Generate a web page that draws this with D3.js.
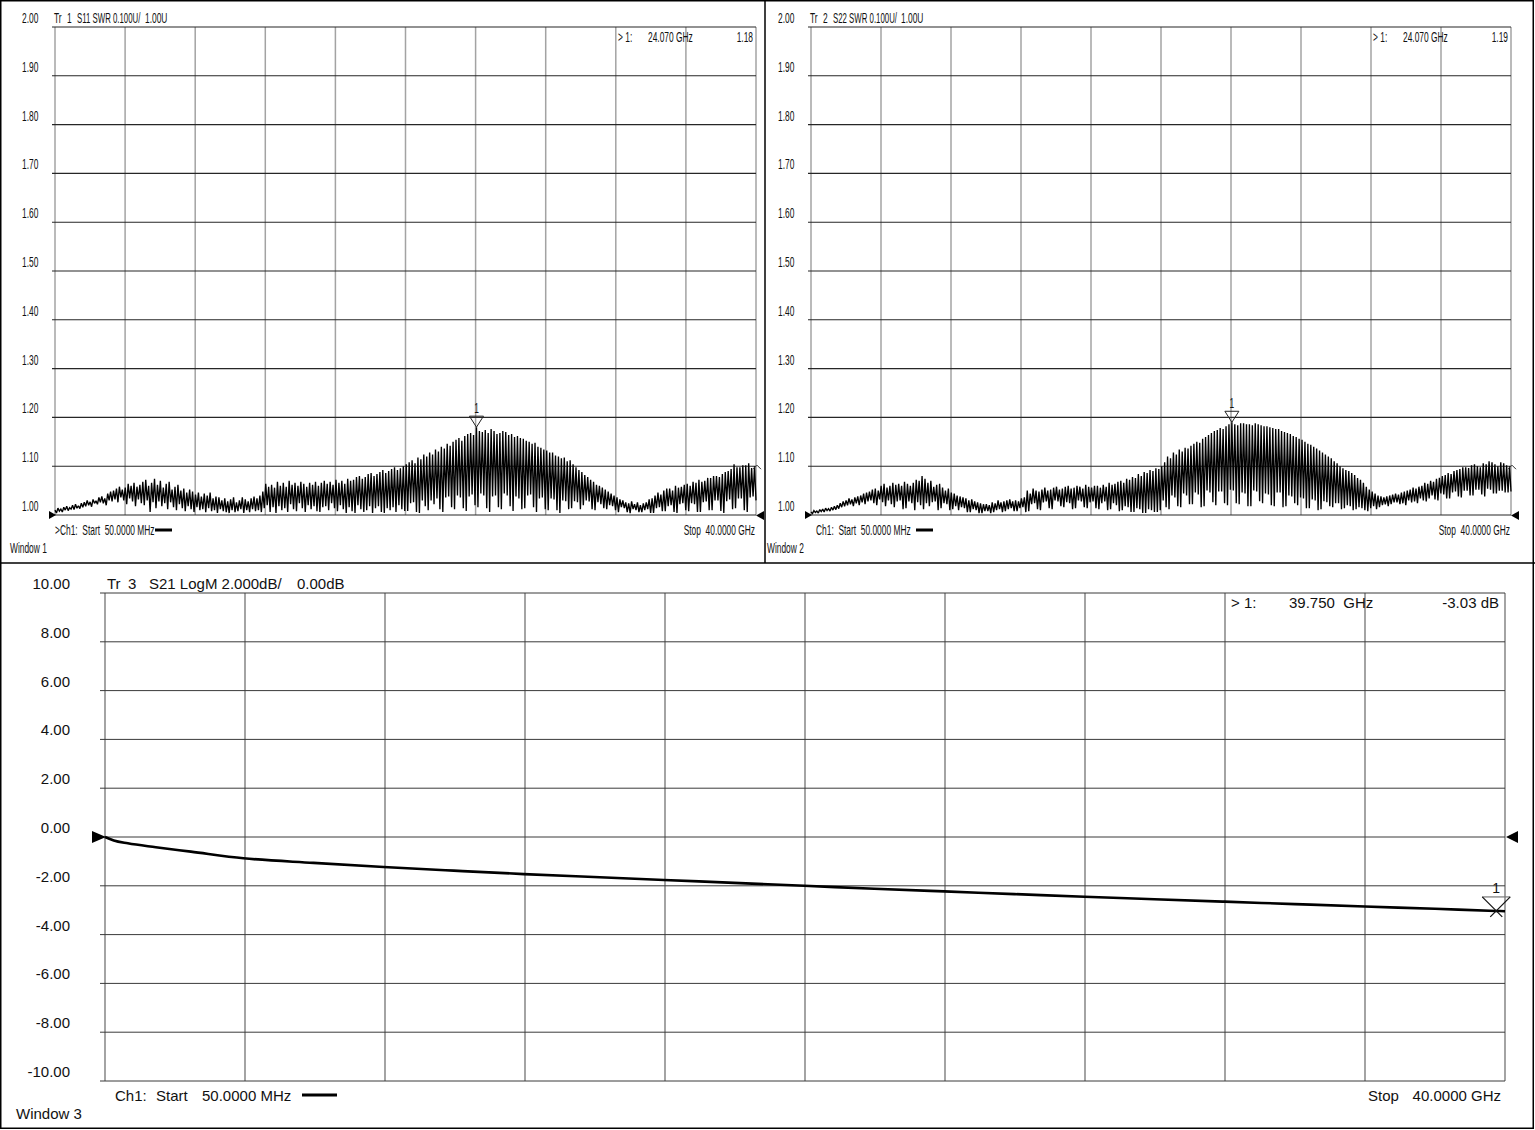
<!DOCTYPE html>
<html><head><meta charset="utf-8">
<script src="https://cdnjs.cloudflare.com/ajax/libs/d3/7.8.5/d3.min.js"></script>
<style>body{margin:0;background:#fff}svg{display:block}</style>
</head><body>
<script>
// ---------- DATA ----------
const sweepStartGHz = 0.05, sweepStopGHz = 40.0;
const swrTicks = [2.0,1.9,1.8,1.7,1.6,1.5,1.4,1.3,1.2,1.1,1.0];
const swrTickLabels = ["2.00","1.90","1.80","1.70","1.60","1.50","1.40","1.30","1.20","1.10","1.00"];
const dbTicks = [10,8,6,4,2,0,-2,-4,-6,-8,-10];
const dbTickLabels = ["10.00","8.00","6.00","4.00","2.00","0.00","-2.00","-4.00","-6.00","-8.00","-10.00"];
const freqGrid = [0.05,4.045,8.04,12.035,16.03,20.025,24.02,28.015,32.01,36.005,40.0];

// S11 SWR sweep: alternating local maxima / minima (evenly spaced sweep points)
const s11Peaks = [
 1.010,1.014,1.012,1.016,1.018,1.015,1.020,1.022,1.019,1.024,
 1.026,1.030,1.027,1.032,1.029,1.036,1.038,1.034,1.044,1.048,
 1.050,1.054,1.058,1.052,1.056,1.064,1.060,1.066,1.058,1.062,
 1.068,1.072,1.060,1.066,1.074,1.062,1.070,1.056,1.064,1.068,
 1.052,1.058,1.062,1.050,1.054,1.046,1.052,1.048,1.042,1.046,
 1.038,1.044,1.040,1.046,1.034,1.038,1.036,1.030,1.034,1.028,
 1.032,1.036,1.026,1.030,1.036,1.032,1.028,1.034,1.038,1.034,
 1.040,1.048,1.064,1.058,1.062,1.056,1.068,1.060,1.066,1.058,
 1.070,1.062,1.066,1.060,1.068,1.064,1.058,1.066,1.062,1.068,
 1.060,1.066,1.070,1.064,1.068,1.062,1.072,1.066,1.070,1.064,
 1.074,1.070,1.072,1.078,1.080,1.074,1.078,1.084,1.086,1.080,
 1.084,1.088,1.092,1.086,1.090,1.094,1.098,1.092,1.096,1.100,
 1.104,1.108,1.112,1.106,1.118,1.114,1.124,1.120,1.128,1.124,
 1.134,1.130,1.140,1.136,1.146,1.142,1.150,1.154,1.158,1.152,
 1.162,1.166,1.168,1.164,1.180,1.172,1.170,1.174,1.168,1.176,
 1.172,1.166,1.168,1.172,1.170,1.164,1.166,1.160,1.162,1.158,
 1.156,1.152,1.150,1.146,1.148,1.140,1.138,1.134,1.132,1.128,
 1.128,1.122,1.120,1.116,1.118,1.110,1.112,1.104,1.098,1.092,
 1.088,1.082,1.078,1.072,1.068,1.062,1.060,1.056,1.052,1.048,
 1.044,1.040,1.036,1.032,1.030,1.026,1.024,1.028,1.022,1.026,
 1.020,1.024,1.026,1.032,1.034,1.040,1.046,1.042,1.050,1.054,
 1.054,1.050,1.060,1.056,1.058,1.062,1.064,1.060,1.068,1.066,
 1.072,1.068,1.070,1.076,1.076,1.080,1.080,1.078,1.084,1.088,
 1.090,1.094,1.104,1.098,1.098,1.102,1.102,1.106,1.096,1.100];
const s11Troughs = [
 1.004,1.008,1.006,1.010,1.009,1.012,1.011,1.014,1.013,1.016,
 1.018,1.020,1.017,1.024,1.022,1.026,1.024,1.020,1.030,1.028,
 1.032,1.026,1.036,1.030,1.022,1.034,1.028,1.018,1.032,1.024,
 1.020,1.030,1.006,1.026,1.014,1.028,1.018,1.024,1.012,1.026,
 1.016,1.010,1.022,1.014,1.008,1.018,1.012,1.006,1.016,1.010,
 1.012,1.006,1.014,1.008,1.010,1.004,1.012,1.008,1.006,1.004,
 1.010,1.006,1.008,1.012,1.004,1.010,1.006,1.012,1.008,1.010,
 1.006,1.014,1.020,1.006,1.016,1.004,1.018,1.010,1.014,1.006,
 1.022,1.012,1.008,1.024,1.014,1.006,1.020,1.012,1.018,1.008,
 1.006,1.016,1.018,1.010,1.024,1.014,1.008,1.020,1.012,1.004,
 1.016,1.008,1.004,1.020,1.012,1.006,1.010,1.018,1.004,1.014,
 1.018,1.006,1.004,1.014,1.010,1.016,1.006,1.020,1.012,1.008,
 1.008,1.024,1.026,1.006,1.004,1.030,1.018,1.010,1.030,1.022,
 1.034,1.012,1.006,1.036,1.038,1.016,1.012,1.040,1.036,1.014,
 1.008,1.038,1.042,1.020,1.016,1.044,1.040,1.014,1.006,1.038,
 1.040,1.016,1.012,1.044,1.040,1.018,1.008,1.038,1.034,1.012,
 1.014,1.040,1.042,1.016,1.006,1.034,1.036,1.012,1.010,1.034,
 1.032,1.010,1.004,1.030,1.028,1.012,1.014,1.028,1.026,1.012,
 1.020,1.030,1.028,1.012,1.010,1.026,1.022,1.014,1.012,1.020,
 1.018,1.010,1.006,1.016,1.014,1.006,1.004,1.012,1.010,1.006,
 1.006,1.010,1.012,1.004,1.004,1.014,1.016,1.008,1.008,1.018,
 1.020,1.006,1.004,1.022,1.024,1.010,1.008,1.024,1.022,1.006,
 1.006,1.026,1.028,1.010,1.010,1.030,1.030,1.008,1.004,1.028,
 1.032,1.012,1.014,1.034,1.034,1.010,1.006,1.036,1.038,1.030];

// S22 SWR sweep
const s22Peaks = [
 1.006,1.009,1.008,1.011,1.012,1.014,1.013,1.016,1.018,1.020,
 1.024,1.028,1.030,1.034,1.032,1.036,1.038,1.040,1.044,1.046,
 1.048,1.052,1.054,1.050,1.060,1.064,1.056,1.060,1.066,1.062,
 1.064,1.060,1.068,1.064,1.060,1.066,1.072,1.070,1.080,1.074,
 1.066,1.070,1.058,1.062,1.064,1.056,1.050,1.054,1.046,1.044,
 1.040,1.038,1.036,1.034,1.030,1.032,1.028,1.026,1.024,1.022,
 1.022,1.020,1.026,1.024,1.030,1.026,1.028,1.030,1.032,1.028,
 1.030,1.028,1.034,1.036,1.050,1.044,1.054,1.050,1.048,1.052,
 1.056,1.050,1.052,1.056,1.058,1.052,1.054,1.058,1.060,1.054,
 1.056,1.060,1.058,1.054,1.062,1.058,1.056,1.060,1.060,1.056,
 1.062,1.058,1.066,1.062,1.064,1.068,1.070,1.066,1.074,1.072,
 1.078,1.076,1.084,1.080,1.088,1.086,1.092,1.090,1.096,1.094,
 1.100,1.108,1.120,1.116,1.128,1.124,1.134,1.130,1.138,1.136,
 1.142,1.146,1.150,1.148,1.156,1.160,1.164,1.168,1.172,1.174,
 1.178,1.176,1.182,1.186,1.190,1.186,1.184,1.188,1.188,1.186,
 1.186,1.184,1.188,1.186,1.184,1.182,1.182,1.180,1.178,1.176,
 1.176,1.172,1.170,1.168,1.166,1.162,1.160,1.156,1.154,1.150,
 1.146,1.144,1.140,1.136,1.132,1.128,1.124,1.120,1.116,1.110,
 1.106,1.100,1.096,1.092,1.090,1.086,1.082,1.076,1.072,1.066,
 1.058,1.052,1.048,1.044,1.040,1.038,1.036,1.038,1.040,1.042,
 1.044,1.042,1.046,1.048,1.050,1.052,1.056,1.054,1.058,1.060,
 1.066,1.064,1.070,1.068,1.074,1.076,1.080,1.082,1.086,1.084,
 1.090,1.092,1.094,1.098,1.098,1.096,1.102,1.104,1.100,1.098,
 1.106,1.104,1.110,1.108,1.104,1.100,1.108,1.106,1.102,1.100];
const s22Troughs = [
 1.003,1.005,1.004,1.007,1.006,1.009,1.008,1.010,1.011,1.013,
 1.016,1.018,1.020,1.022,1.018,1.024,1.020,1.026,1.022,1.028,
 1.030,1.024,1.020,1.032,1.026,1.018,1.030,1.022,1.016,1.028,
 1.030,1.012,1.014,1.028,1.024,1.010,1.026,1.020,1.012,1.024,
 1.018,1.026,1.028,1.010,1.014,1.024,1.022,1.010,1.012,1.018,
 1.010,1.016,1.014,1.006,1.006,1.012,1.010,1.004,1.004,1.008,
 1.008,1.004,1.006,1.010,1.012,1.006,1.008,1.012,1.014,1.008,
 1.008,1.014,1.016,1.006,1.008,1.022,1.024,1.012,1.010,1.026,
 1.028,1.014,1.012,1.030,1.028,1.018,1.016,1.026,1.024,1.012,
 1.014,1.030,1.028,1.016,1.014,1.026,1.028,1.014,1.012,1.024,
 1.028,1.010,1.012,1.024,1.020,1.008,1.010,1.018,1.016,1.006,
 1.006,1.014,1.012,1.004,1.004,1.012,1.010,1.006,1.006,1.010,
 1.030,1.016,1.012,1.040,1.036,1.018,1.016,1.044,1.040,1.022,
 1.022,1.046,1.042,1.016,1.018,1.050,1.046,1.026,1.020,1.048,
 1.048,1.024,1.020,1.052,1.050,1.024,1.022,1.046,1.044,1.018,
 1.018,1.050,1.048,1.028,1.024,1.044,1.042,1.020,1.018,1.046,
 1.046,1.016,1.018,1.040,1.038,1.024,1.020,1.036,1.034,1.014,
 1.014,1.032,1.030,1.010,1.012,1.028,1.026,1.018,1.016,1.024,
 1.024,1.012,1.014,1.020,1.018,1.010,1.012,1.016,1.014,1.010,
 1.008,1.014,1.018,1.012,1.016,1.020,1.022,1.018,1.022,1.026,
 1.026,1.022,1.024,1.020,1.030,1.026,1.028,1.024,1.034,1.030,
 1.028,1.034,1.040,1.032,1.030,1.044,1.042,1.034,1.034,1.046,
 1.048,1.038,1.036,1.050,1.050,1.040,1.040,1.052,1.052,1.042,
 1.038,1.054,1.052,1.044,1.044,1.050,1.050,1.046,1.046,1.048];

// S21 insertion loss
const s21Freq = [0.05,0.3,0.7,1.5,2.5,4,6,8,10,12,14,16,18,20,22,24,26,28,30,32,34,36,38,39.75,40];
const s21Val  = [0.00,-0.14,-0.26,-0.42,-0.60,-0.87,-1.06,-1.23,-1.38,-1.52,-1.64,-1.76,-1.88,-2.00,-2.12,-2.23,-2.34,-2.45,-2.55,-2.65,-2.75,-2.85,-2.94,-3.03,-3.04];

// Markers
const markerFreq = [24.070, 24.070, 39.750];
const markerVal  = [1.18, 1.19, -3.03];
const markerFreqText = ["24.070 GHz","24.070 GHz","39.750  GHz"];
const markerValText  = ["1.18","1.19","-3.03 dB"];

// ---------- DRAW ----------
const W = 1535, H = 1130;
const svg = d3.select("body").append("svg").attr("width", W).attr("height", H);
const FONT = "'Liberation Sans', Arial, sans-serif";

function ctext(g, str, x, y, anchor, sq) {
  return g.append("text").attr("transform", `translate(${x},${y}) scale(${sq || 0.6},1)`)
    .attr("text-anchor", anchor || "start").text(str)
    .style("font-family", FONT).style("font-size", "14px").style("white-space", "pre").attr("fill", "#111");
}
function ntext(g, str, x, y, anchor) {
  return g.append("text").attr("x", x).attr("y", y).text(str).attr("text-anchor", anchor || "start")
    .style("font-family", FONT).style("font-size", "15px").style("white-space", "pre").attr("fill", "#111");
}

// frame
svg.append("rect").attr("x", 0.75).attr("y", 0.75).attr("width", W - 2.5).attr("height", H - 2.5)
  .attr("fill", "none").attr("stroke", "#000").attr("stroke-width", 1.5);
svg.append("line").attr("x1", 0).attr("x2", W).attr("y1", 563).attr("y2", 563).attr("stroke", "#000").attr("stroke-width", 1.5);
svg.append("line").attr("x1", 765).attr("x2", 765).attr("y1", 0).attr("y2", 563).attr("stroke", "#000").attr("stroke-width", 1.5);

function interleave(p, t) { const o = []; p.forEach((v, k) => { o.push(v); o.push(t[k]); }); return o; }

const swrPanels = [
  {x0: 55, x1: 756, lab: 22, tr: "1", sp: "S11", peaks: s11Peaks, troughs: s11Troughs, m: 0, rd: 618, win: "Window 1", ch: ">Ch1:  Start  50.0000 MHz", chx: 55, winx: 10},
  {x0: 811, x1: 1511, lab: 778, tr: "2", sp: "S22", peaks: s22Peaks, troughs: s22Troughs, m: 1, rd: 1373, win: "Window 2", ch: "Ch1:  Start  50.0000 MHz", chx: 816, winx: 767}
];

swrPanels.forEach(p => {
  const g = svg.append("g");
  const x = d3.scaleLinear().domain([sweepStartGHz, sweepStopGHz]).range([p.x0, p.x1]);
  const y = d3.scaleLinear().domain([1.0, 2.0]).range([515, 27]);
  g.selectAll(".v").data(freqGrid).join("line")
    .attr("x1", d => x(d)).attr("x2", d => x(d)).attr("y1", 27).attr("y2", 515)
    .attr("stroke", "#a3a3a3").attr("stroke-width", 1.5);
  g.selectAll(".h").data(swrTicks).join("line")
    .attr("x1", p.x0 - 3).attr("x2", p.x1).attr("y1", d => y(d)).attr("y2", d => y(d))
    .attr("stroke", "#262626").attr("stroke-width", 1.1);
  swrTicks.forEach((t, i) => ctext(g, swrTickLabels[i], p.lab, y(t) - 4));
  ctext(g, "Tr", p.x0 - 1, 23);
  ctext(g, p.tr, p.x0 + 12, 23);
  ctext(g, p.sp + " SWR 0.100U/", p.x0 + 22, 23, "start", 0.56);
  ctext(g, "1.00U", p.x0 + 90, 23);
  const vals = interleave(p.peaks, p.troughs);
  const n = vals.length;
  const pts = vals.map((v, i) => ({f: sweepStartGHz + i * (sweepStopGHz - sweepStartGHz) / (n - 1), v}));
  g.append("path").datum(pts).attr("fill", "none").attr("stroke", "#000").attr("stroke-width", 1.35)
    .attr("stroke-linejoin", "miter").attr("stroke-miterlimit", 2)
    .attr("d", d3.line().x(d => x(d.f)).y(d => y(d.v)));
  const ex = x(sweepStopGHz), ey = y(1.10);
  g.append("path").attr("d", `M${ex - 3},${ey + 3}L${ex + 1},${ey - 1}L${ex + 5},${ey + 3}`)
    .attr("fill", "none").attr("stroke", "#333").attr("stroke-width", 1);
  g.append("path").attr("d", `M${p.x0 - 6},511L${p.x0 + 1},515L${p.x0 - 6},519Z`).attr("fill", "#000");
  g.append("path").attr("d", `M${p.x1 + 8},511L${p.x1},515.5L${p.x1 + 8},520Z`).attr("fill", "#000");
  const mx = x(markerFreq[p.m]), my = y(markerVal[p.m]);
  g.append("path").attr("d", `M${mx},${my}L${mx - 7},${my - 11}L${mx + 7},${my - 11}Z`)
    .attr("fill", "none").attr("stroke", "#222").attr("stroke-width", 1);
  ctext(g, "1", mx, my - 14, "middle");
  ctext(g, "> 1:", p.rd, 42);
  ctext(g, markerFreqText[p.m], p.rd + 30, 42);
  ctext(g, markerValText[p.m], p.x1 - 3, 42, "end");
  ctext(g, p.ch, p.chx, 535);
  g.append("line").attr("x1", p.chx + 100).attr("x2", p.chx + 117).attr("y1", 530).attr("y2", 530)
    .attr("stroke", "#000").attr("stroke-width", 3);
  ctext(g, "Stop  40.0000 GHz", p.x1 - 1, 535, "end");
  ctext(g, p.win, p.winx, 553);
});

// bottom panel
(function () {
  const g = svg.append("g");
  const x0 = 105, x1 = 1505;
  const x = d3.scaleLinear().domain([sweepStartGHz, sweepStopGHz]).range([x0, x1]);
  const y = d3.scaleLinear().domain([-10, 10]).range([1081, 593]);
  g.selectAll(".v").data(freqGrid).join("line")
    .attr("x1", d => x(d)).attr("x2", d => x(d)).attr("y1", 593).attr("y2", 1081)
    .attr("stroke", "#7d7d7d").attr("stroke-width", 1.4);
  g.selectAll(".h").data(dbTicks).join("line")
    .attr("x1", x0 - 5).attr("x2", x1).attr("y1", d => y(d)).attr("y2", d => y(d))
    .attr("stroke", "#3a3a3a").attr("stroke-width", 1);
  dbTicks.forEach((t, i) => ntext(g, dbTickLabels[i], 70, y(t) - 4, "end"));
  ntext(g, "Tr", 107, 589);
  ntext(g, "3", 128, 589);
  ntext(g, "S21 LogM 2.000dB/", 149, 589);
  ntext(g, "0.00dB", 297, 589);
  const pts = s21Freq.map((f, i) => ({f, v: s21Val[i]}));
  g.append("path").datum(pts).attr("fill", "none").attr("stroke", "#000").attr("stroke-width", 2.6)
    .attr("d", d3.line().curve(d3.curveMonotoneX).x(d => x(d.f)).y(d => y(d.v)));
  g.append("path").attr("d", `M${x0 - 13},${y(0) - 6}L${x0 + 1},${y(0)}L${x0 - 13},${y(0) + 6}Z`).attr("fill", "#000");
  g.append("path").attr("d", `M${x1 + 13},${y(0) - 6}L${x1 + 1},${y(0)}L${x1 + 13},${y(0) + 6}Z`).attr("fill", "#000");
  const mx = x(markerFreq[2]), my = y(markerVal[2]);
  g.append("line").attr("x1", mx - 14).attr("x2", mx + 14).attr("y1", my - 14).attr("y2", my - 14).attr("stroke", "#777").attr("stroke-width", 1.2);
  g.append("line").attr("x1", mx - 14).attr("y1", my - 14).attr("x2", mx + 6).attr("y2", my + 6).attr("stroke", "#111").attr("stroke-width", 1.2);
  g.append("line").attr("x1", mx + 14).attr("y1", my - 14).attr("x2", mx - 6).attr("y2", my + 6).attr("stroke", "#111").attr("stroke-width", 1.2);
  ntext(g, "1", mx, my - 18, "middle").style("font-size", "14px");
  ntext(g, "> 1:", 1231, 608);
  ntext(g, markerFreqText[2], 1289, 608);
  ntext(g, markerValText[2], 1499, 608, "end");
  ntext(g, "Ch1:", 115, 1101);
  ntext(g, "Start", 156, 1101);
  ntext(g, "50.0000 MHz", 202, 1101);
  g.append("line").attr("x1", 302).attr("x2", 337).attr("y1", 1095).attr("y2", 1095).attr("stroke", "#000").attr("stroke-width", 3);
  ntext(g, "Stop", 1368, 1101);
  ntext(g, "40.0000 GHz", 1501, 1101, "end");
  ntext(g, "Window 3", 16, 1119);
})();
</script>
</body></html>
